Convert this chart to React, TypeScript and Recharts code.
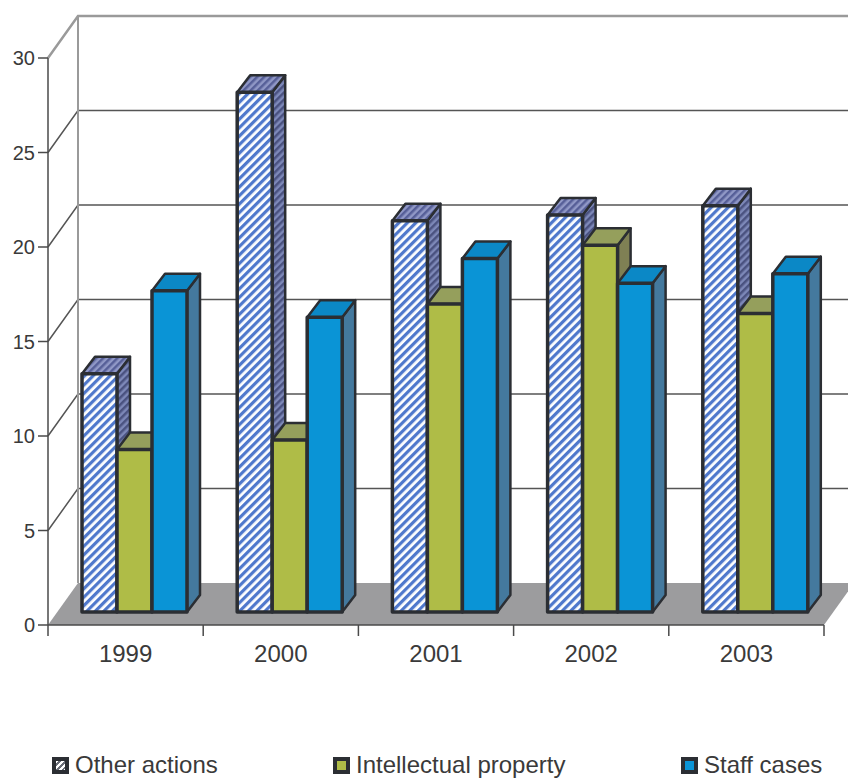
import { Bar, BarChart, CartesianGrid, Legend, XAxis, YAxis } from 'recharts';

const years = ['1999', '2000', '2001', '2002', '2003'];
const otherActions = [12.6, 27.5, 20.7, 21, 21.5];
const intellectualProperty = [8.6, 9.1, 16.3, 19.4, 15.8];
const staffCases = [17, 15.6, 18.7, 17.4, 17.9];
const yTicks = [0, 5, 10, 15, 20, 25, 30];

const data = years.map((year, i) => ({
  year,
  other: otherActions[i],
  ip: intellectualProperty[i],
  staff: staffCases[i],
}));

const WIDTH = 848;
const HEIGHT = 778;
const Y_AXIS_WIDTH = 48;
const X_AXIS_HEIGHT = 40;
const FLOOR_Y = 625;
const margin = { top: 58, right: 24, bottom: HEIGHT - FLOOR_Y - X_AXIS_HEIGHT, left: 0 };
const bandWidth = (WIDTH - Y_AXIS_WIDTH - margin.right) / years.length;

// depth of the box the chart sits in
const WALL_DX = 30;
const WALL_DY = 42;
// where the columns stand on the floor, and how deep they are
const BAR_DX = 8.6;
const BAR_DY = 13;
const DEPTH_X = 13;
const DEPTH_Y = 17;

const OUTLINE = '#2b2e33';
const TEXT = '#3a3a3a';
const AXIS = '#4a4a4a';
const FONT = '"Liberation Sans", Arial, sans-serif';

type Faces = { front: string; top: string; side: string };

const otherFaces: Faces = { front: 'url(#hatchFront)', top: 'url(#hatchTop)', side: 'url(#hatchSide)' };
const ipFaces: Faces = { front: '#afbc47', top: '#959f5c', side: '#7f8054' };
const staffFaces: Faces = { front: '#0a94d6', top: '#0b88c6', side: '#44799e' };

function column(faces: Faces) {
  return (props: any) => {
    const x = props.x + BAR_DX;
    const y = props.y - BAR_DY;
    const w = props.width;
    const h = props.height;
    return (
      <g stroke={OUTLINE} strokeWidth={3.5} strokeLinejoin="round">
        <polygon
          fill={faces.side}
          strokeWidth={2.5}
          points={`${x + w},${y} ${x + w + DEPTH_X},${y - DEPTH_Y} ${x + w + DEPTH_X},${y + h - DEPTH_Y} ${x + w},${y + h}`}
        />
        <polygon
          fill={faces.top}
          strokeWidth={2.5}
          points={`${x},${y} ${x + DEPTH_X},${y - DEPTH_Y} ${x + w + DEPTH_X},${y - DEPTH_Y} ${x + w},${y}`}
        />
        <rect x={x} y={y} width={w} height={h} fill={faces.front} />
      </g>
    );
  };
}

// one grid line runs up the side wall and then along the back wall
function wallLine(props: any) {
  const { x1, y1, x2 } = props;
  const isFloor = Math.abs(y1 - FLOOR_Y) < 1;
  const isTop = Math.abs(y1 - margin.top) < 1;
  if (isFloor) {
    return (
      <polygon
        key="floor"
        fill="#9c9c9e"
        points={`${x1},${y1} ${x2},${y1} ${x2 + WALL_DX},${y1 - WALL_DY} ${x1 + WALL_DX},${y1 - WALL_DY}`}
      />
    );
  }
  const color = isTop ? '#9a9a9a' : '#555555';
  const d = `M${x1},${y1}L${x1 + WALL_DX},${y1 - WALL_DY}L${x2 + WALL_DX},${y1 - WALL_DY}`;
  return (
    <g key={y1} fill="none">
      <path d={d} stroke={color} strokeWidth={isTop ? 2.5 : 1.5} />
      {isTop && (
        <path
          d={`M${x1 + WALL_DX},${y1 - WALL_DY}V${FLOOR_Y - WALL_DY}`}
          stroke="#9a9a9a"
          strokeWidth={2}
        />
      )}
    </g>
  );
}

// year label, with the tick marks on the edges of its band
function YearTick(props: any) {
  const { x, payload, index } = props;
  const left = x - bandWidth / 2;
  const right = x + bandWidth / 2;
  return (
    <g>
      <line x1={left} x2={left} y1={FLOOR_Y} y2={FLOOR_Y + 11} stroke={AXIS} strokeWidth={1.5} />
      {index === years.length - 1 && (
        <line x1={right} x2={right} y1={FLOOR_Y} y2={FLOOR_Y + 11} stroke={AXIS} strokeWidth={1.5} />
      )}
      <text x={x} y={FLOOR_Y + 37} textAnchor="middle" fontSize={24} fontFamily={FONT} fill={TEXT}>
        {payload.value}
      </text>
    </g>
  );
}

const legendLeft: Record<string, number> = {
  'Other actions': 52,
  'Intellectual property': 333,
  'Staff cases': 681,
};

function LegendRow({ payload }: any) {
  return (
    <div style={{ position: 'relative', height: 0 }}>
      {(payload ?? []).map((item: any) => (
        <div
          key={item.value}
          style={{
            position: 'absolute',
            left: legendLeft[item.value],
            top: 752,
            display: 'flex',
            alignItems: 'center',
            whiteSpace: 'nowrap',
            fontFamily: FONT,
            fontSize: 24,
            lineHeight: '26px',
            color: TEXT,
          }}
        >
          <span
            style={{
              width: 9,
              height: 9,
              marginRight: 6,
              border: `4px solid ${OUTLINE}`,
              background: item.value === 'Other actions' ? undefined : item.color,
              backgroundImage:
                item.value === 'Other actions'
                  ? 'repeating-linear-gradient(135deg, #ffffff 0 2px, #6a6e78 2px 4px)'
                  : undefined,
            }}
          />
          {item.value}
        </div>
      ))}
    </div>
  );
}

export default function App() {
  return (
    <div
      style={{
        position: 'absolute',
        left: 0,
        top: 0,
        width: WIDTH,
        height: HEIGHT,
        overflow: 'hidden',
        background: '#fff',
      }}
    >
      <svg width={0} height={0} style={{ position: 'absolute' }}>
        <defs>
          <pattern id="hatchFront" width={6} height={6} patternUnits="userSpaceOnUse" patternTransform="rotate(45)">
            <rect width={6} height={6} fill="#ffffff" />
            <rect width={3.2} height={6} fill="#4f78cc" />
          </pattern>
          <pattern id="hatchTop" width={5} height={5} patternUnits="userSpaceOnUse" patternTransform="rotate(45)">
            <rect width={5} height={5} fill="#9098c6" />
            <rect width={2.5} height={5} fill="#565f98" />
          </pattern>
          <pattern id="hatchSide" width={5} height={5} patternUnits="userSpaceOnUse" patternTransform="rotate(45)">
            <rect width={5} height={5} fill="#7d88b8" />
            <rect width={2.5} height={5} fill="#4a5280" />
          </pattern>
        </defs>
      </svg>
      <BarChart
        width={WIDTH}
        height={HEIGHT}
        data={data}
        margin={margin}
        barGap={0}
        barCategoryGap={25.4}
      >
        <CartesianGrid horizontal={wallLine} vertical={false} />
        <XAxis
          dataKey="year"
          interval={0}
          height={X_AXIS_HEIGHT}
          tickLine={false}
          tick={YearTick}
          axisLine={{ stroke: AXIS, strokeWidth: 1.5 }}
        />
        <YAxis
          domain={[0, 30]}
          ticks={yTicks}
          width={Y_AXIS_WIDTH}
          tickSize={10}
          tickMargin={3}
          tickLine={{ stroke: AXIS, strokeWidth: 1.5 }}
          axisLine={{ stroke: AXIS, strokeWidth: 1.5 }}
          tick={{ fontSize: 20, fontFamily: FONT, fill: TEXT }}
        />
        <Bar dataKey="other" name="Other actions" fill="#4f78cc" shape={column(otherFaces)} isAnimationActive={false} />
        <Bar dataKey="ip" name="Intellectual property" fill={ipFaces.front} shape={column(ipFaces)} isAnimationActive={false} />
        <Bar dataKey="staff" name="Staff cases" fill={staffFaces.front} shape={column(staffFaces)} isAnimationActive={false} />
        <Legend content={LegendRow} wrapperStyle={{ left: 0, top: 0, bottom: 'auto', width: WIDTH, height: 0 }} />
      </BarChart>
    </div>
  );
}
